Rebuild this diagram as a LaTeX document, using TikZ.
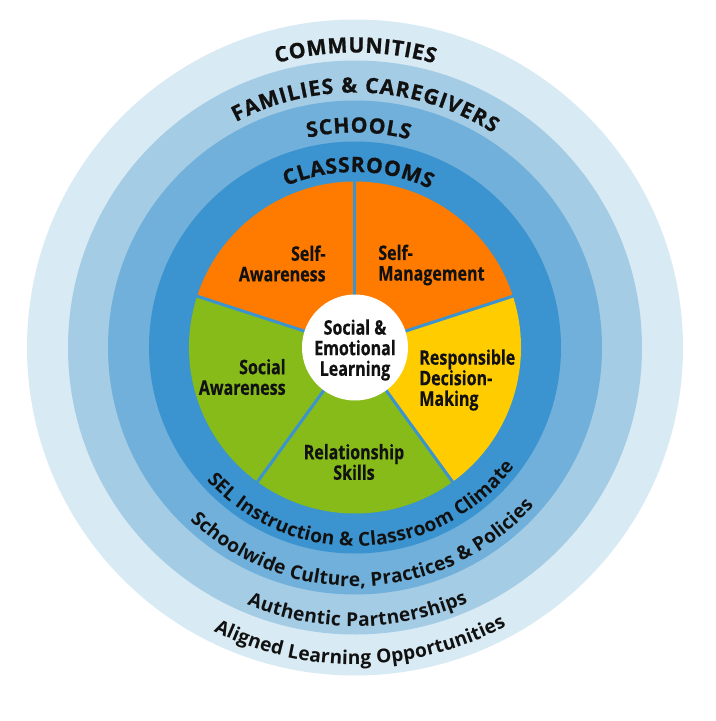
\documentclass[tikz,border=0pt]{standalone}
\usepackage{fontspec}
\setmainfont{Open Sans}
\newfontfamily\narrowfont[FakeStretch=0.8, FakeBold=0.4]{Open Sans}
\newfontfamily\capsfont[FakeBold=0.9]{Open Sans}
\usepackage{xcolor}
\usetikzlibrary{decorations.text}
\definecolor{kringa}{HTML}{D8EAF3}
\definecolor{kringb}{HTML}{A5CCE5}
\definecolor{kringc}{HTML}{70B0DA}
\definecolor{kringd}{HTML}{3B93CF}
\definecolor{korange}{HTML}{FF7B00}
\definecolor{kyellow}{HTML}{FFCC00}
\definecolor{kgreen}{HTML}{86BB19}
\definecolor{kink}{HTML}{111111}

\begin{document}
\begin{tikzpicture}[x=1cm, y=1cm,
  pielabel/.style={font=\narrowfont\bfseries\fontsize{11.4}{11.7}\selectfont, text=kink, inner sep=0pt},
  ringtop/.style={decorate, decoration={text along path, text align=fit to path, text color=kink,
    text={|\capsfont\bfseries\fontsize{12}{14}\selectfont|#1}}},
  ringbottom/.style={decorate, decoration={text along path, text align=fit to path, text color=kink,
    text={|\bfseries\fontsize{10.9}{13}\selectfont|#1}}}]

  \useasboundingbox (-7.10,-7.47) rectangle (7.22,6.95);

  %% ── Rings, outside in ───────────────────────────────────────────────
  \foreach \r/\c in {6.56/kringa, 5.74/kringb, 4.94/kringc, 4.12/kringd}
    \fill[\c] (0,0) circle (\r);

  %% ── Five competency slices ──────────────────────────────────────────
  \foreach \a/\b/\c in {90/162/korange, 18/90/korange, -54/18/kyellow,
                        234/306/kgreen, 162/234/kgreen}
    \fill[\c] (0,0) -- (\a:3.32) arc (\a:\b:3.32) -- cycle;
  %% gaps between the slices
  \foreach \a in {18,90,162,234,306}
    \draw[kringd, line width=0.06cm] (0,0) -- (\a:3.36);
  %% hub
  \fill[white] (0,0) circle (1.06);

  %% ── Slice labels ────────────────────────────────────────────────────
  \node[pielabel, anchor=east, align=right] (selfaw) at (-0.58,1.68) {Self-\\Awareness};
  \node[pielabel, anchor=west, align=left] (selfman) at (0.46,1.65) {Self-\\Management};
  \node[pielabel, anchor=west, align=left] (decide) at (1.28,-0.65) {Responsible\\Decision-\\Making};
  \node[pielabel, anchor=east, align=right] (socaw) at (-1.38,-0.59) {Social\\Awareness};
  \node[pielabel, align=center] (relate) at (-0.02,-2.29) {Relationship\\Skills};
  \node[pielabel, align=center] (sel) at (0,-0.05) {Social \&\\Emotional\\Learning};

  %% ── Captions along the top of each ring ─────────────────────────────
  \path[ringtop={COMMUNITIES}] (105.4:5.90) arc (105.4:74.4:5.90);
  \path[ringtop={FAMILIES {\&} CAREGIVERS}] (117.8:5.10) arc (117.8:57.2:5.10);
  \path[ringtop={SCHOOLS}] (102.7:4.30) arc (102.7:75.4:4.30);
  \path[ringtop={CLASSROOMS}] (113.1:3.51) arc (113.1:64.7:3.51);

  %% ── Captions along the bottom ───────────────────────────────────────
  \path[ringbottom={SEL Instruction {\&} Classroom Climate}] (221.8:3.98) arc (221.8:323.2:3.98);
  \path[ringbottom={Schoolwide Culture, Practices {\&} Policies}] (226.3:4.78) arc (226.3:318.5:4.78);
  \path[ringbottom={Authentic Partnerships}] (247.2:5.58) arc (247.2:293.9:5.58);
  \path[ringbottom={Aligned Learning Opportunities}] (243.5:6.34) arc (243.5:298.5:6.34);

\end{tikzpicture}
\end{document}
